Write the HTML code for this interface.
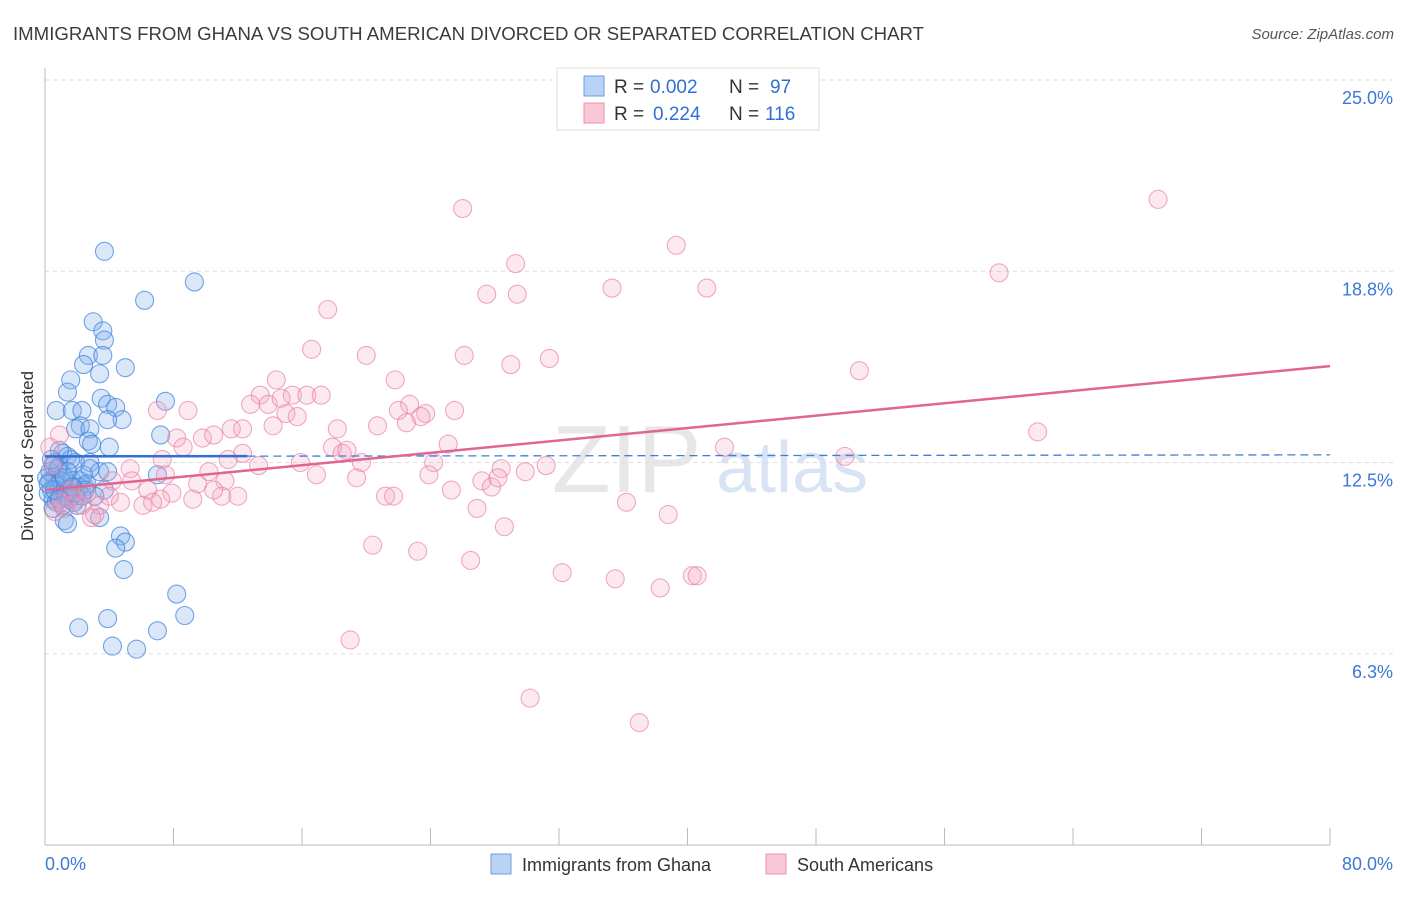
<!DOCTYPE html>
<html><head><meta charset="utf-8"><style>
body{margin:0;background:#fff;font-family:"Liberation Sans",sans-serif;}
svg text{font-family:"Liberation Sans",sans-serif;}
</style></head><body>
<svg id="chart" width="1406" height="892" xmlns="http://www.w3.org/2000/svg">
<text x="13" y="40" font-size="18" fill="#3c3c3c" textLength="911" lengthAdjust="spacingAndGlyphs">IMMIGRANTS FROM GHANA VS SOUTH AMERICAN DIVORCED OR SEPARATED CORRELATION CHART</text>
<text x="1394" y="39" font-size="15" fill="#555" text-anchor="end" font-style="italic">Source: ZipAtlas.com</text>
<text x="552" y="492" font-size="96" fill="#ddd" font-family="Liberation Serif" opacity="0.7">ZIP</text>
<text x="716" y="492" font-size="72" fill="#c8daf0" opacity="0.7">atlas</text>
<g id="grid"></g>
<g id="axes"></g>
<g id="marks"></g>
<text transform="translate(33,456) rotate(-90)" font-size="17" fill="#333" text-anchor="middle">Divorced or Separated</text>
<g>
<rect x="557" y="68" width="262" height="62" fill="#fff" stroke="#ddd"/>
<rect x="584" y="76" width="20" height="20" fill="#b8d3f5" stroke="#6d9fe0"/>
<rect x="584" y="103" width="20" height="20" fill="#f9c7d6" stroke="#ee8fae"/>
<text x="614" y="93" font-size="19" fill="#333">R =</text>
<text x="650" y="93" font-size="19" fill="#2f6fd6">0.002</text>
<text x="729" y="93" font-size="19" fill="#333">N =</text>
<text x="770" y="93" font-size="19" fill="#2f6fd6">97</text>
<text x="614" y="120" font-size="19" fill="#333">R =</text>
<text x="653" y="120" font-size="19" fill="#2f6fd6">0.224</text>
<text x="729" y="120" font-size="19" fill="#333">N =</text>
<text x="765" y="120" font-size="19" fill="#2f6fd6">116</text>
</g>
<g>
<rect x="491" y="854" width="20" height="20" fill="#b8d3f5" stroke="#6d9fe0"/>
<text x="522" y="871" font-size="18" fill="#333">Immigrants from Ghana</text>
<rect x="766" y="854" width="20" height="20" fill="#f9c7d6" stroke="#ee8fae"/>
<text x="797" y="871" font-size="18" fill="#333">South Americans</text>
</g>
</svg>
<script>
const yTicks=[25,18.75,12.5,6.25];
const yTickLabels=["25.0%","18.8%","12.5%","6.3%"];
const xTickLabels=["0.0%","80.0%"];
const blueX=[3.7,9.3,6.2,3.0,3.6,3.7,2.7,3.6,2.4,5.0,3.4,1.6,1.4,7.5,3.5,3.9,4.4,0.7,1.7,2.3,4.8,3.9,2.2,1.9,2.8,7.2,2.7,4.0,2.9,1.1,1.4,0.6,0.9,1.9,2.8,3.4,3.9,0.6,1.2,2.2,0.3,2.5,3.7,0.9,1.6,1.9,3.1,0.5,7.0,3.4,1.2,1.4,4.7,5.0,4.4,4.9,8.2,3.9,8.7,2.1,7.0,4.2,5.7,0.3,0.8,1.0,1.7,2.1,0.4,1.3,2.4,0.2,0.7,1.1,2.8,1.6,0.9,0.1,1.5,2.0,0.5,1.3,2.6,0.8,1.8,0.4,1.0,2.3,0.6,1.4,0.2,1.9,0.9,1.2,0.5,2.5,1.7];
const blueY=[19.4,18.4,17.8,17.1,16.8,16.5,16.0,16.0,15.7,15.6,15.4,15.2,14.8,14.5,14.6,14.4,14.3,14.2,14.2,14.2,13.9,13.9,13.7,13.6,13.6,13.4,13.2,13.0,13.1,12.8,12.7,12.5,12.4,12.5,12.5,12.2,12.2,12.0,11.9,11.9,11.9,11.7,11.6,11.6,11.5,11.4,11.4,11.3,12.1,10.7,10.6,10.5,10.1,9.9,9.7,9.0,8.2,7.4,7.5,7.1,7.0,6.5,6.4,12.2,11.8,12.0,11.9,11.7,11.6,11.4,12.1,11.5,11.2,11.1,12.3,12.6,12.9,12.0,11.3,11.1,11.0,11.5,11.8,12.3,11.2,12.6,11.9,11.4,11.6,12.2,11.8,11.5,11.3,12.0,12.4,11.6,11.7];
const pinkX=[69.3,26.0,39.3,29.3,59.4,27.5,29.4,35.3,41.2,17.6,16.6,20.0,26.1,29.0,31.4,50.7,14.4,21.8,13.4,15.4,16.3,17.2,12.8,13.9,14.7,22.7,7.0,8.9,15.0,15.7,22.0,23.7,23.4,25.5,22.5,18.2,20.7,11.6,12.3,14.2,8.2,8.6,9.8,10.5,61.8,25.1,42.3,17.9,18.5,18.8,12.3,11.4,7.3,19.7,24.2,49.8,13.3,15.9,31.2,10.2,16.9,19.4,23.9,28.4,29.9,27.2,27.8,28.2,9.5,11.2,7.5,5.3,5.4,4.2,6.4,7.9,12.0,11.0,25.3,21.2,21.7,7.2,6.1,6.7,4.7,9.2,10.5,26.9,36.2,38.8,28.6,3.4,2.3,2.9,20.4,23.2,26.5,32.2,35.5,38.3,40.3,40.6,19.0,30.2,37.0,1.6,0.9,0.6,1.9,4.0,0.3,1.2,2.6,0.5,3.1,1.0];
const pinkY=[21.1,20.8,19.6,19.0,18.7,18.0,18.0,18.2,18.2,17.5,16.2,16.0,16.0,15.7,15.9,15.5,15.2,15.2,14.7,14.7,14.7,14.7,14.4,14.4,14.6,14.4,14.2,14.2,14.1,14.0,14.2,14.1,14.0,14.2,13.8,13.6,13.7,13.6,13.6,13.7,13.3,13.0,13.3,13.4,13.5,13.1,13.0,13.0,12.8,12.9,12.8,12.6,12.6,12.5,12.5,12.7,12.4,12.5,12.4,12.2,12.1,12.0,12.1,12.3,12.2,11.9,11.7,12.0,11.8,11.9,12.1,12.3,11.9,11.9,11.6,11.5,11.4,11.4,11.6,11.4,11.4,11.3,11.1,11.2,11.2,11.3,11.6,11.0,11.2,10.8,10.4,11.1,11.1,10.7,9.8,9.6,9.3,8.9,8.7,8.4,8.8,8.8,6.7,4.8,4.0,11.6,13.4,10.9,11.3,11.4,13.0,11.0,11.5,12.4,10.8,11.2];
const blueTrend=[12.7,12.75];
const blueSolidEnd=[12.6];
const pinkTrend=[11.6,15.65];
const NS="http://www.w3.org/2000/svg";
const X0=45,X1=1330,Y0=845,Y25=80;
const xs=v=>X0+(X1-X0)*v/80;
const ys=v=>Y0-(Y0-Y25)*v/25;
function mk(tag,attrs,parent){const e=document.createElementNS(NS,tag);for(const k in attrs)e.setAttribute(k,attrs[k]);parent.appendChild(e);return e;}
const grid=document.getElementById('grid'),axes=document.getElementById('axes'),marks=document.getElementById('marks');
yTicks.forEach((t,i)=>{
 const l=mk('line',{x1:45,x2:1394,y1:ys(t),y2:ys(t),stroke:'#ddd','stroke-dasharray':'4,4'},grid);
 
 
 const tx=mk('text',{x:1393,y:ys(t)+24,'font-size':18,fill:'#3b78d8','text-anchor':'end'},axes);
 tx.textContent=yTickLabels[i];
 
 
});
const ax=mk('line',{x1:45,x2:1330,y1:845,y2:845,stroke:'#bbb'},axes);


const ay=mk('line',{x1:45,x2:45,y1:68,y2:845,stroke:'#bbb'},axes);


for(let i=0;i<=10;i++){
 const tk=mk('line',{x1:xs(i*8),x2:xs(i*8),y1:828,y2:845,stroke:'#bbb'},axes);
 
 
}
[[0,'start',45],[80,'end',1393]].forEach((d,i)=>{
 const tx=mk('text',{x:d[2],y:870,'font-size':18,fill:'#3b78d8','text-anchor':d[1]},axes);
 tx.textContent=xTickLabels[i];
 
 
});
blueX.forEach((v,i)=>{
 const c=mk('circle',{cx:xs(v),cy:ys(blueY[i]),r:9,fill:'rgba(130,175,235,0.3)',stroke:'#3b7fdc','stroke-width':1.1,'stroke-opacity':0.7},marks);
 
 
});
pinkX.forEach((v,i)=>{
 const c=mk('circle',{cx:xs(v),cy:ys(pinkY[i]),r:9,fill:'rgba(245,165,195,0.25)',stroke:'#e87ca0','stroke-width':1.1,'stroke-opacity':0.65},marks);
 
 
});
const bAt=x=>blueTrend[0]+(blueTrend[1]-blueTrend[0])*x/80;
const bd=mk('line',{x1:xs(blueSolidEnd[0]),y1:ys(bAt(blueSolidEnd[0])),x2:xs(80),y2:ys(bAt(80)),stroke:'#3b7fdc','stroke-width':1.3,'stroke-dasharray':'8,5'},marks);


const bs=mk('line',{x1:xs(0),y1:ys(bAt(0)),x2:xs(blueSolidEnd[0]),y2:ys(bAt(blueSolidEnd[0])),stroke:'#2f6fd6','stroke-width':2.5},marks);


const pl=mk('line',{x1:xs(0),y1:ys(pinkTrend[0]),x2:xs(80),y2:ys(pinkTrend[1]),stroke:'#e0658f','stroke-width':2.5},marks);


</script>
</body></html>
